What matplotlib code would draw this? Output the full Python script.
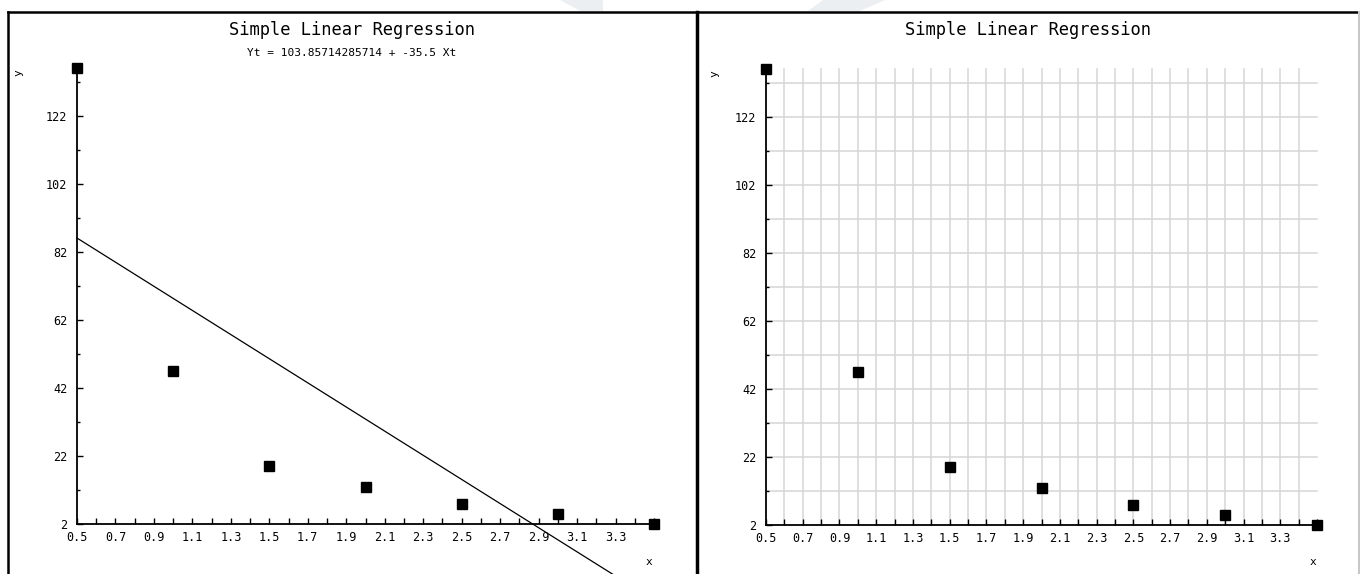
import numpy as np
import matplotlib.pyplot as plt
from matplotlib.patches import Polygon
from matplotlib.ticker import MultipleLocator, FixedLocator

# data
x_vals = [0.5, 1.0, 1.5, 2.0, 2.5, 3.0, 3.5]
y_vals = [136, 47, 19, 13, 8, 5, 2]
title = "Simple Linear Regression"
x_ticks = [0.5, 0.7, 0.9, 1.1, 1.3, 1.5, 1.7, 1.9, 2.1, 2.3, 2.5, 2.7, 2.9, 3.1, 3.3]
y_ticks = [2, 22, 42, 62, 82, 102, 122]
y_minor = [12, 32, 52, 72, 92, 112, 132]

slope, intercept = np.polyfit(x_vals, y_vals, 1)
equation = "Yt = %.14g + %.14g Xt" % (intercept, slope)

W, H = 1360, 574
fig = plt.figure(figsize=(W / 100, H / 100), dpi=100)
plt.rcParams['font.family'] = ['DejaVu Sans Mono']

def px_axes(x0, x1, y_top, y_bot):
    # pixel box -> figure fraction
    return fig.add_axes([x0 / W, 1 - y_bot / H, (x1 - x0) / W, (y_bot - y_top) / H])

def setup(ax, grid):
    ax.set_xlim(0.5, 3.5)
    ax.set_ylim(2, 136)
    for s in ['top', 'right']:
        ax.spines[s].set_visible(False)
    for s in ['left', 'bottom']:
        ax.spines[s].set_linewidth(1.3)
        ax.spines[s].set_zorder(4)
    ax.xaxis.set_major_locator(FixedLocator(x_ticks))
    ax.xaxis.set_minor_locator(MultipleLocator(0.1))
    ax.set_xticklabels(["%.1f" % t for t in x_ticks])
    ax.yaxis.set_major_locator(FixedLocator(y_ticks))
    ax.yaxis.set_minor_locator(FixedLocator(y_minor))
    ax.tick_params(axis='x', which='both', direction='in', length=4, width=1, pad=5, labelsize=8.5)
    ax.tick_params(axis='y', which='major', direction='in', length=4, width=1, pad=7, labelsize=8.5)
    ax.tick_params(axis='y', which='minor', direction='in', length=2.5, width=1)
    if grid:
        for xv in np.arange(0.6, 3.45, 0.1):
            ax.plot([xv, xv], [2, 136], color='#d6d6d6', lw=1.1, zorder=1, clip_on=False)
        for yv in sorted(y_ticks[1:] + y_minor):
            ax.plot([0.5, 3.5], [yv, yv], color='#d6d6d6', lw=1.1, zorder=1, clip_on=False)
    ax.plot(x_vals, y_vals, 's', color='black', markersize=7, zorder=5, clip_on=False)

# left chart
ax1 = px_axes(77, 654, 68.4, 524)
setup(ax1, grid=False)
xs = np.array([x_vals[0], x_vals[-1]])
ax1.plot(xs, intercept + slope * xs, color='black', lw=0.9, zorder=3, clip_on=False)

# right chart
ax2 = px_axes(766, 1317, 69, 525)
setup(ax2, grid=True)

# titles and axis labels
fig.text(352 / W, 1 - 30 / H, title, ha='center', va='center', fontsize=12.3)
fig.text(352 / W, 1 - 53 / H, equation, ha='center', va='center', fontsize=8)
fig.text(1028 / W, 1 - 30 / H, title, ha='center', va='center', fontsize=12.3)
fig.text(18 / W, 1 - 73 / H, "y", ha='center', va='center', rotation=90, fontsize=8)
fig.text(649 / W, 1 - 562 / H, "x", ha='center', va='center', fontsize=8)
fig.text(714 / W, 1 - 74 / H, "y", ha='center', va='center', rotation=90, fontsize=8)
fig.text(1313 / W, 1 - 562 / H, "x", ha='center', va='center', fontsize=8)

# panel borders
def fline(xp, yp, **kw):
    fig.add_artist(plt.Line2D([p / W for p in xp], [1 - p / H for p in yp], **kw))

fline([8, 1359], [12, 12], color='black', lw=1.8)
fline([8, 8], [12, 574], color='black', lw=1.8)
fline([697, 697], [12, 574], color='black', lw=2.5)
fline([1359, 1359], [12, 574], color='#c8c8c8', lw=1.5)

# faint watermark shapes above the border
for pts in [[(560, 0), (603, 0), (603, 11), (580, 11)], [(823, 0), (885, 0), (860, 11), (808, 11)]]:
    fig.add_artist(Polygon([(a / W, 1 - b / H) for a, b in pts], closed=True,
                           transform=fig.transFigure, facecolor='#eceff2', edgecolor='none'))

fig.savefig("out.png", dpi=100)
